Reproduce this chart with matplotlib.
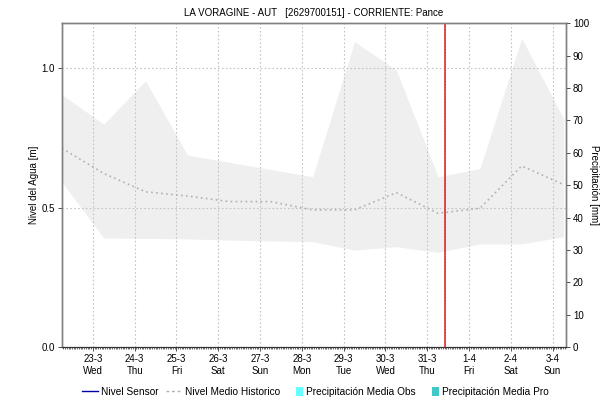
import matplotlib
matplotlib.use("Agg")
import matplotlib.pyplot as plt
from matplotlib.lines import Line2D
from matplotlib.patches import Patch, Rectangle
from matplotlib.legend_handler import HandlerPatch
from matplotlib.ticker import MultipleLocator
import numpy as np

plt.rcParams['font.family'] = ['Liberation Sans', 'DejaVu Sans']

# Day labels (tick positions are whole days, 23-3 = 0)
day_labels = ["23-3\nWed", "24-3\nThu", "25-3\nFri", "26-3\nSat", "27-3\nSun", "28-3\nMon",
              "29-3\nTue", "30-3\nWed", "31-3\nThu", "1-4\nFri", "2-4\nSat", "3-4\nSun"]

# Historical series: one sample per day, starting 0.74 day before 23-3
hist_time = [-0.74, 0.26, 1.26, 2.26, 3.26, 4.26, 5.26, 6.26, 7.26, 8.26, 9.26, 10.26, 11.26]
hist_max = [0.905, 0.80, 0.956, 0.689, 0.663, 0.637, 0.611, 1.096, 0.994, 0.611, 0.641, 1.108, 0.82]
hist_min = [0.592, 0.391, 0.390, 0.388, 0.384, 0.381, 0.378, 0.348, 0.360, 0.340, 0.370, 0.370, 0.396]
hist_mean = [0.713, 0.623, 0.557, 0.542, 0.522, 0.522, 0.492, 0.492, 0.554, 0.480, 0.498, 0.650, 0.583]

# Current time marker
now_time = 8.42

fig = plt.figure(figsize=(6.07, 4.05), dpi=100)
ax = fig.add_axes([0.1021, 0.1432, 0.8304, 0.7993])
ax2 = ax.twinx()

ax.fill_between(hist_time, hist_min, hist_max, color="#efefef", lw=0, zorder=1)
ax.plot(hist_time, hist_mean, color="#b0b0b0", lw=1.2, ls=(0, (1, 2)), zorder=3)

ax.axvline(now_time, color="#e03030", lw=1.2, zorder=4)
ax.axvline(now_time, color="#555555", lw=0.6, ls=(0, (1, 2.5)), zorder=5)

ax.set_xlim(-0.74, 11.32)
ax.set_ylim(0, 1.162)
ax2.set_ylim(0, 100)

ax.set_xticks(range(len(day_labels)))
ax.set_xticklabels(day_labels, fontsize=7)
ax.xaxis.set_minor_locator(MultipleLocator(1 / 24))
ax.tick_params(axis="x", which="major", length=3, width=0.6, color="#333333", pad=2)
ax.tick_params(axis="x", which="minor", length=1.5, width=0.5, color="#333333")

ax.set_yticks([0.0, 0.5, 1.0])
ax.set_yticklabels(["0.0", "0.5", "1.0"], fontsize=7)
ax.tick_params(axis="y", length=3, width=0.6, color="#333333", pad=2)
ax2.set_yticks(np.arange(0, 101, 10))
ax2.tick_params(axis="y", labelsize=7, length=3, width=0.6, color="#333333", pad=2)

ax.grid(True, which="major", color="#c4c4c4", lw=0.8, ls=(0, (1.5, 2)))
ax.set_axisbelow(False)
for a in (ax, ax2):
    for side in ("left", "right", "top"):
        a.spines[side].set_color("#808080")
        a.spines[side].set_linewidth(1.0)
    a.spines["bottom"].set_color("#333333")
    a.spines["bottom"].set_linewidth(0.8)

ax.set_ylabel("Nivel del Agua [m]", fontsize=7, labelpad=2)
ax2.set_ylabel("Precipitación [mm]", fontsize=7, rotation=-90, labelpad=7)

fig.text(0.517, 0.968, "LA VORAGINE - AUT   [2629700151] - CORRIENTE: Pance",
         ha="center", va="center", fontsize=7)


def narrow_box(legend, orig_handle, xdescent, ydescent, width, height, fontsize):
    h = height * 1.3
    return Rectangle((width - 0.45 * width - xdescent, -ydescent - (h - height) / 2),
                     0.45 * width, h)


handles = [
    Line2D([], [], color="#0000aa", lw=1.0),
    Line2D([], [], color="#b0b0b0", lw=1.0, ls=(0, (2, 2))),
    Patch(facecolor="#66ffff", edgecolor="none"),
    Patch(facecolor="#40c8c8", edgecolor="none"),
]
labels = ["Nivel Sensor", "Nivel Medio Historico", "Precipitación Media Obs", "Precipitación Media Pro"]
fig.legend(handles, labels, loc="center", bbox_to_anchor=(0.52, 0.032), ncol=4, frameon=False,
           fontsize=7.3, handlelength=1.5, handletextpad=0.3, columnspacing=0.8,
           handler_map={Patch: HandlerPatch(patch_func=narrow_box)})

fig.savefig("out.png", dpi=100)
